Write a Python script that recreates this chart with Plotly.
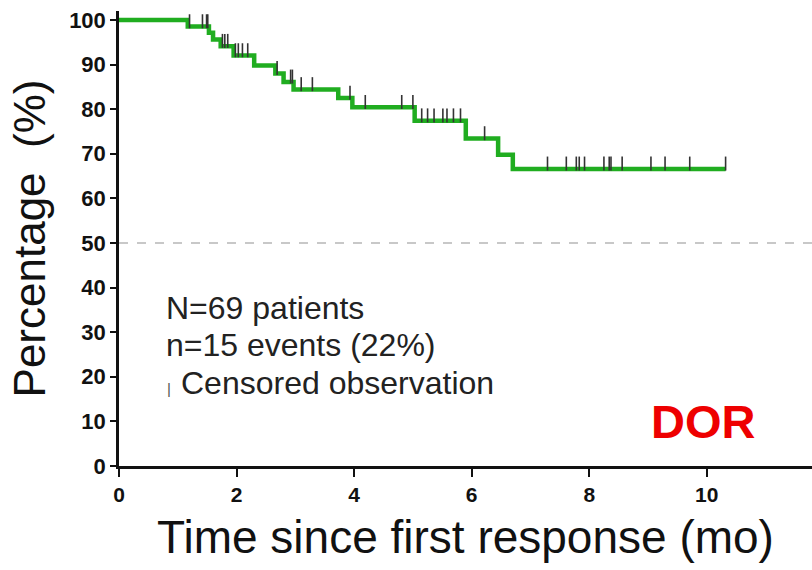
import bisect
import plotly.graph_objects as go

# Kaplan-Meier step data
event_times = [0, 1.17, 1.53, 1.60, 1.73, 1.95, 2.30, 2.66, 2.80, 2.97, 3.73, 3.97, 5.03, 5.90, 6.45, 6.70]
survival_pct = [100, 98.5, 97.1, 95.6, 94.1, 92.0, 89.8, 88.0, 86.1, 84.4, 82.5, 80.4, 77.4, 73.4, 69.8, 66.6]
follow_up_end = 10.32

censor_times = [1.20, 1.42, 1.49, 1.51, 1.76, 1.80, 1.85, 1.98, 2.03, 2.10, 2.19, 2.69, 2.92, 2.95,
                3.10, 3.29, 3.93, 4.19, 4.81, 5.00, 5.15, 5.25, 5.36, 5.51, 5.58, 5.69, 5.81, 6.22,
                7.29, 7.61, 7.78, 7.83, 7.92, 8.25, 8.34, 8.37, 8.56, 9.05, 9.29, 9.71, 10.32]

x_ticks = [0, 2, 4, 6, 8, 10]
y_ticks = [0, 10, 20, 30, 40, 50, 60, 70, 80, 90, 100]
median_ref = 50

info_lines = ["N=69 patients", "n=15 events (22%)", "Censored observation"]
label = "DOR"

def level_at(t):
    i = bisect.bisect_right(event_times, t) - 1
    return survival_pct[max(i, 0)]

curve_x = event_times + [follow_up_end]
curve_y = survival_pct + [survival_pct[-1]]
censor_y = [level_at(t) + 1.2 for t in censor_times]

FONT = "Liberation Sans, Arial, sans-serif"

fig = go.Figure()
fig.add_trace(go.Scatter(
    x=[0, 11.79], y=[median_ref, median_ref], mode="lines",
    line=dict(color="#c8c8c8", width=2, dash="dash"), hoverinfo="skip", showlegend=False))
fig.add_trace(go.Scatter(
    x=curve_x, y=curve_y, mode="lines", line=dict(color="#20ad20", width=4.5, shape="hv"),
    showlegend=False))
fig.add_trace(go.Scatter(
    x=censor_times, y=censor_y, mode="markers",
    marker=dict(symbol="line-ns", size=10, line=dict(color="#333333", width=1.6)),
    showlegend=False))

fig.update_layout(
    width=812, height=570,
    margin=dict(l=119, r=0, t=11, b=104),
    paper_bgcolor="white", plot_bgcolor="white",
    font=dict(family=FONT, color="#111111"),
    xaxis=dict(range=[0, 11.79], tickvals=x_ticks, ticktext=[str(v) for v in x_ticks],
               showgrid=False, zeroline=False, showline=True, linecolor="#111111", linewidth=3,
               ticks="outside", ticklen=8, tickwidth=2, tickcolor="#111111",
               tickfont=dict(size=21, family=FONT, weight="bold", color="#111111"),
               title=dict(text="Time since first response (mo)", font=dict(size=46, family=FONT, color="#111111"),
                          standoff=16)),
    yaxis=dict(range=[0, 102], tickvals=y_ticks, ticktext=[str(v) for v in y_ticks],
               showgrid=False, zeroline=False, showline=True, linecolor="#111111", linewidth=2.5,
               ticks="outside", ticklen=6, tickwidth=2, tickcolor="#111111",
               tickfont=dict(size=22, family=FONT, weight="bold", color="#111111"),
               title=dict(text="Percentage  (%)", font=dict(size=44, family=FONT, color="#111111"),
                          standoff=10)),
)

ys = [35.4, 27.1, 18.6]
fig.add_annotation(x=0.76, y=ys[0], xref="x", yref="y", text=info_lines[0], showarrow=False,
                   xanchor="left", yanchor="middle", font=dict(size=32, family=FONT, color="#222222"))
fig.add_annotation(x=0.76, y=ys[1], xref="x", yref="y", text=info_lines[1], showarrow=False,
                   xanchor="left", yanchor="middle", font=dict(size=32, family=FONT, color="#222222"))
fig.add_annotation(x=0.78, y=ys[2] - 1.3, xref="x", yref="y", text="|", showarrow=False,
                   xanchor="left", yanchor="middle", font=dict(size=15, family=FONT, color="#555555"))
fig.add_annotation(x=1.02, y=ys[2], xref="x", yref="y", text=info_lines[2], showarrow=False,
                   xanchor="left", yanchor="middle", font=dict(size=32, family=FONT, color="#222222"))
fig.add_annotation(x=9.93, y=10.0, xref="x", yref="y", text=label, showarrow=False,
                   xanchor="center", yanchor="middle",
                   font=dict(size=47, family=FONT, weight="bold", color="#ee0000"))

fig.write_html("out.html")
